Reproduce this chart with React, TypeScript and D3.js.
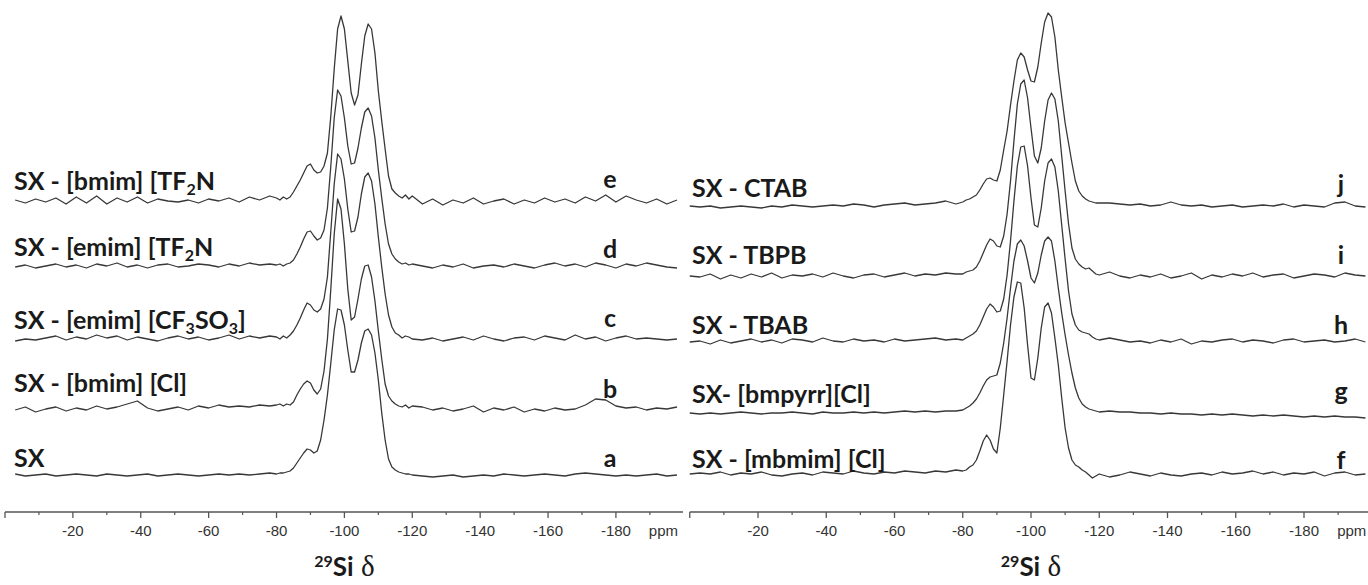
import React from 'react';
import * as d3 from 'd3';

// chemical shift grid (ppm)
const ppmGrid = [
  0, -3, -6, -9, -12, -15, -18, -21, -24, -27, -30, -33, -36, -39, -42, -45, -48, -51, -54, -57, -60, -63, -66, -69, -72, -75, -78,
  -80, -81, -82, -83, -84, -85, -86, -87, -88, -89, -90, -91, -92, -93, -94, -95, -96, -97, -98, -99, -100,
  -101, -102, -103, -104, -105, -106, -107, -108, -109, -110, -111, -112, -113, -114, -115, -116, -117, -118, -119, -120,
  -123, -126, -129, -132, -135, -138, -141, -144, -147, -150, -153, -156, -159, -162, -165, -168, -171, -174, -177, -180, -183, -186, -189, -192, -195, -198,
];

// left panel spectra (intensity, a.u.)
const specE = [
  0, 1, -2, 2, -1, 3, -3, 4, -2, 5, -3, 3, -1, 4, -2, 2, 0, -1, 1, -2, 2, 0, 3, -1, 4, 1, 5,
  3, 1, 4, 2, 4, 9, 15, 21, 28, 35, 37, 31, 28, 29, 35, 48, 85, 132, 172, 185, 172, 140, 108, 96, 106, 137, 165, 177, 172, 148, 110, 80, 52, 25, 12, 8, 5, 3, 6, 2, 5,
  -3, 2, -4, 1, -2, 3, -3, 0, 2, -3, 1, -2, 3, -1, 2, -2, 4, 0, 6, -1, 5, 1, -2, 2, -3, 1,
];
const specD = [
  0, -1, 1, -2, 0, 2, -1, 1, -2, 2, 0, 3, -1, 1, -2, 1, 2, -1, 0, 2, 1, -1, 2, 0, 3, 1, 2,
  1, 2, 0, 2, 3, 6, 12, 19, 27, 34, 35, 30, 26, 28, 36, 58, 100, 148, 176, 170, 148, 120, 102, 103, 118, 138, 154, 158, 150, 128, 96, 68, 42, 22, 12, 7, 4, 2, 3, 1, 2,
  0, -2, 1, -1, 2, -2, 0, 1, -1, 2, 0, -2, 1, 3, 0, 2, -1, 3, 1, -2, 2, 0, 3, 1, -1, -2,
];
const specC = [
  0, -2, 0, -1, 1, 3, -1, 2, 0, 4, 1, 3, -1, 2, 0, -2, 1, 3, 0, 2, -1, 1, 4, 0, 3, 1, 3,
  2, 0, 3, 1, 4, 8, 14, 21, 29, 36, 34, 29, 27, 30, 40, 62, 108, 155, 185, 180, 160, 130, 107, 108, 122, 145, 162, 166, 158, 135, 102, 72, 45, 24, 12, 6, 4, 1, 3, 2, 0,
  -1, 1, -2, 0, 2, -1, 3, 0, -2, 1, 2, -1, 3, 1, -1, 4, 0, 2, -2, 1, 3, 0, 1, 0, -1, 0,
];
const specB = [
  0, -1, 2, -3, 0, 2, -2, 1, -1, 3, 0, 2, 5, 8, 1, -2, 0, 2, -1, 3, 1, 4, 2, 3, 2, 4, 3,
  4, 5, 3, 5, 4, 7, 14, 20, 25, 28, 26, 19, 15, 20, 38, 70, 120, 175, 210, 200, 165, 120, 89, 92, 110, 130, 143, 144, 132, 108, 78, 50, 25, 13, 8, 5, 3, 2, 4, 1, 3,
  2, -1, 1, -2, 0, 3, -3, 1, -1, 2, -3, 0, -2, 1, -1, 0, 4, 10, 9, 3, 1, 2, -1, 1, 0, 2,
];
const specA = [
  0, 1, -1, 0, 1, -1, 0, 1, 0, -1, 1, 0, -1, 0, 1, -1, 0, 1, 0, -1, 0, 1, 0, 1, 0, 1, 2,
  1, 2, 2, 3, 4, 7, 12, 17, 22, 26, 25, 22, 24, 35, 55, 80, 112, 145, 166, 165, 150, 125, 103, 103, 115, 132, 144, 146, 140, 122, 95, 62, 35, 16, 8, 5, 3, 2, 1, 1, 0,
  -1, -2, -1, 0, -2, -1, 0, -1, 1, 0, -1, 0, 1, 0, -1, 1, 2, 1, 0, -1, 0, -1, 0, 1, -1, 0,
];

// right panel spectra
const specJ = [
  -1, -2, -1, -3, -2, -1, -2, -3, -1, -2, 0, -1, -2, -1, 0, -1, 1, 0, -2, 0, 1, 2, 0, 1, 2, 4, 1,
  3, 5, 6, 8, 10, 15, 21, 26, 27, 25, 24, 35, 55, 74, 100, 124, 145, 152, 148, 135, 124, 123, 138, 162, 183, 192, 188, 168, 135, 108, 82, 62, 42, 24, 14, 9, 6, 4, 3, 2, 2,
  2, 1, 0, 1, -1, 0, 3, 0, -1, 0, -2, -1, 0, -2, -1, 0, -1, 1, -2, 0, -1, -2, 2, 3, -1, -2,
];
const specI = [
  0, -1, 2, -3, 1, -2, 2, -1, 3, -2, 1, 0, 2, -1, 3, 0, -2, 1, 2, -1, 1, 3, 0, 2, 1, 3, 2,
  2, 4, 5, 6, 9, 15, 23, 31, 37, 35, 30, 29, 40, 62, 95, 135, 172, 192, 196, 178, 148, 120, 113, 128, 155, 176, 183, 177, 155, 120, 85, 52, 28, 17, 12, 9, 7, 8, 5, 2, 1,
  4, 0, -2, 1, -1, 2, -2, 0, 3, -3, 1, -1, 2, 0, 3, -1, 1, 2, -2, 0, 2, 1, -1, 3, 1, 0,
];
const specH = [
  -1, 0, -3, 1, -2, 0, 2, -1, 1, -2, 2, 1, -1, 3, 0, -1, 2, 0, 1, -1, 2, 0, 1, 2, 3, 1, 2,
  1, 3, 5, 7, 10, 16, 24, 32, 37, 34, 29, 30, 42, 66, 100, 140, 175, 194, 195, 175, 143, 116, 114, 133, 160, 178, 182, 174, 150, 116, 82, 50, 27, 16, 11, 9, 8, 7, 4, 2, 1,
  3, 1, -1, 0, -2, 1, -1, 2, -3, 0, -1, 1, 2, -1, 1, 0, -2, 1, 2, -1, 0, 1, -1, 0, 2, -1,
];
const specG = [
  0, -1, 0, -1, 0, 1, 0, -1, 0, 0, 1, 0, -1, 1, 0, 0, 1, 0, 1, 0, 1, 2, 1, 2, 1, 2, 2,
  3, 5, 7, 10, 14, 20, 27, 33, 36, 37, 38, 50, 70, 95, 125, 152, 169, 173, 167, 152, 135, 130, 140, 158, 172, 176, 172, 152, 125, 100, 78, 58, 40, 25, 15, 9, 6, 4, 3, 2, 1,
  2, 1, 1, 0, 0, -1, 0, -1, -1, -2, -1, -2, -1, -2, -3, -2, -3, -2, -3, -4, -3, -4, -3, -4, -4, -5,
];
const specF = [
  -1, 0, -1, 1, -2, 0, -1, 1, -2, -3, -1, 0, -2, 1, 0, -1, 2, 0, -1, 1, 0, 2, 1, 0, 2, 1, 3,
  2, 3, 6, 8, 13, 22, 32, 38, 33, 24, 20, 45, 78, 112, 148, 176, 191, 190, 165, 128, 95, 93, 115, 145, 166, 170, 160, 135, 108, 75, 45, 25, 13, 8, 6, 3, 1, -2, -5, -3, -1,
  -4, -2, 1, -1, -3, 0, -2, -3, -1, 0, -2, 1, -1, 0, 2, -1, 1, -2, 0, -1, 1, -3, 0, 1, -2, -1,
];

// labels: [text, isSubscript]
const leftLabels: [string, boolean][][] = [
  [['SX - [bmim] [TF', false], ['2', true], ['N', false]],
  [['SX - [emim] [TF', false], ['2', true], ['N', false]],
  [['SX - [emim] [CF', false], ['3', true], ['SO', false], ['3', true], [']', false]],
  [['SX - [bmim] [Cl]', false]],
  [['SX', false]],
];
const rightLabels: [string, boolean][][] = [
  [['SX - CTAB', false]],
  [['SX - TBPB', false]],
  [['SX - TBAB', false]],
  [['SX- [bmpyrr][Cl]', false]],
  [['SX - [mbmim] [Cl]', false]],
];
const leftLetters = ['e', 'd', 'c', 'b', 'a'];
const rightLetters = ['j', 'i', 'h', 'g', 'f'];

const majorTicks = [0, -20, -40, -60, -80, -100, -120, -140, -160, -180];
const minorTicks = [-10, -30, -50, -70, -90, -110, -130, -150, -170, -190];

// layout
const W = 1368;
const H = 585;
const AXIS_Y = 512;
const INK = '#1a1a1a';
const LINE = '#383838';
const LABEL_FONT = "Lato, 'Open Sans', sans-serif";
const LABEL_SIZE = 25;

const yScale = d3.scaleLinear().domain([0, 200]).range([0, -200]);

function Label({ segs, x, y }: { segs: [string, boolean][]; x: number; y: number }) {
  let prevSub = false;
  return (
    <text x={x} y={y} fontFamily={LABEL_FONT} fontWeight={700} fontSize={LABEL_SIZE} fill={INK}>
      {segs.map(([t, sub], i) => {
        let dy = 0;
        if (sub && !prevSub) dy = 5;
        else if (!sub && prevSub) dy = -5;
        prevSub = sub;
        return (
          <tspan key={i} dy={dy} fontSize={sub ? 16 : LABEL_SIZE}>
            {t}
          </tspan>
        );
      })}
    </text>
  );
}

function Panel(props: {
  range: [number, number];
  axisEnd: number;
  series: number[][];
  bases: number[];
  labels: [string, boolean][][];
  labelX: number;
  labelYs: number[];
  letters: string[];
  letterX: number;
  letterYs: number[];
  startIdx: number;
}) {
  const x = d3.scaleLinear().domain([0, -200]).range(props.range);
  const grid = ppmGrid.slice(props.startIdx);
  return (
    <g>
      {props.series.map((s, i) => {
        const pts = grid.map((p, k) => [p, s[k + props.startIdx]] as [number, number]);
        const line = d3
          .line<[number, number]>()
          .x((d) => x(d[0]))
          .y((d) => props.bases[i] + yScale(d[1]));
        return (
          <path key={i} d={line(pts) || ''} fill="none" stroke={LINE} strokeWidth={1.3} strokeLinejoin="round" />
        );
      })}
      {props.labels.map((l, i) => (
        <Label key={i} segs={l} x={props.labelX} y={props.labelYs[i]} />
      ))}
      {props.letters.map((l, i) => (
        <text key={i} x={props.letterX} y={props.letterYs[i]} textAnchor="middle" fontFamily={LABEL_FONT} fontWeight={700} fontSize={LABEL_SIZE} fill={INK}>
          {l}
        </text>
      ))}
      {/* axis */}
      <line x1={x(0)} x2={props.axisEnd} y1={AXIS_Y} y2={AXIS_Y} stroke="#555" strokeWidth={1.5} />
      {majorTicks.map((t) => (
        <line key={'M' + t} x1={x(t)} x2={x(t)} y1={AXIS_Y} y2={AXIS_Y + 6} stroke="#555" strokeWidth={1.3} />
      ))}
      {minorTicks.map((t) => (
        <line key={'m' + t} x1={x(t)} x2={x(t)} y1={AXIS_Y} y2={AXIS_Y + 3} stroke="#555" strokeWidth={1.2} />
      ))}
      {majorTicks
        .filter((t) => t !== 0)
        .map((t) => (
          <text key={'l' + t} x={x(t)} y={536} textAnchor="middle" fontFamily="'Liberation Sans', Arial, sans-serif" fontSize={15} fill="#333">
            {String(t)}
          </text>
        ))}
      <text x={x(-194)} y={536} textAnchor="middle" fontFamily="'Liberation Sans', Arial, sans-serif" fontSize={15} fill="#333">
        ppm
      </text>
      <text x={x(-100)} y={576} textAnchor="middle" fill={INK}>
        <tspan fontFamily={LABEL_FONT} fontWeight={700} fontSize={16} dy={-9}>
          29
        </tspan>
        <tspan fontFamily={LABEL_FONT} fontWeight={700} fontSize={26} dy={9}>
          Si
        </tspan>
        <tspan fontFamily="'Liberation Serif', 'DejaVu Serif', serif" fontSize={29}>
          {' δ'}
        </tspan>
      </text>
    </g>
  );
}

export default function App() {
  return (
    <svg width={W} height={H} style={{ position: 'absolute', left: 0, top: 0, background: '#fff' }}>
      <rect x={0} y={0} width={W} height={H} fill="#fff" />
      <Panel
        range={[5, 683.8]}
        axisEnd={683}
        series={[specE, specD, specC, specB, specA]}
        bases={[201, 266, 339, 409, 475]}
        labels={leftLabels}
        labelX={14}
        labelYs={[190, 256, 329, 392, 467]}
        letters={leftLetters}
        letterX={610}
        letterYs={[188, 258, 327, 398, 467]}
        startIdx={1}
      />
      <Panel
        range={[689.75, 1372.25]}
        axisEnd={1368}
        series={[specJ, specI, specH, specG, specF]}
        bases={[205, 276, 341, 413, 473]}
        labels={rightLabels}
        labelX={692}
        labelYs={[197, 264, 334, 403, 468]}
        letters={rightLetters}
        letterX={1341}
        letterYs={[193, 264, 334, 400, 469]}
        startIdx={0}
      />
    </svg>
  );
}
